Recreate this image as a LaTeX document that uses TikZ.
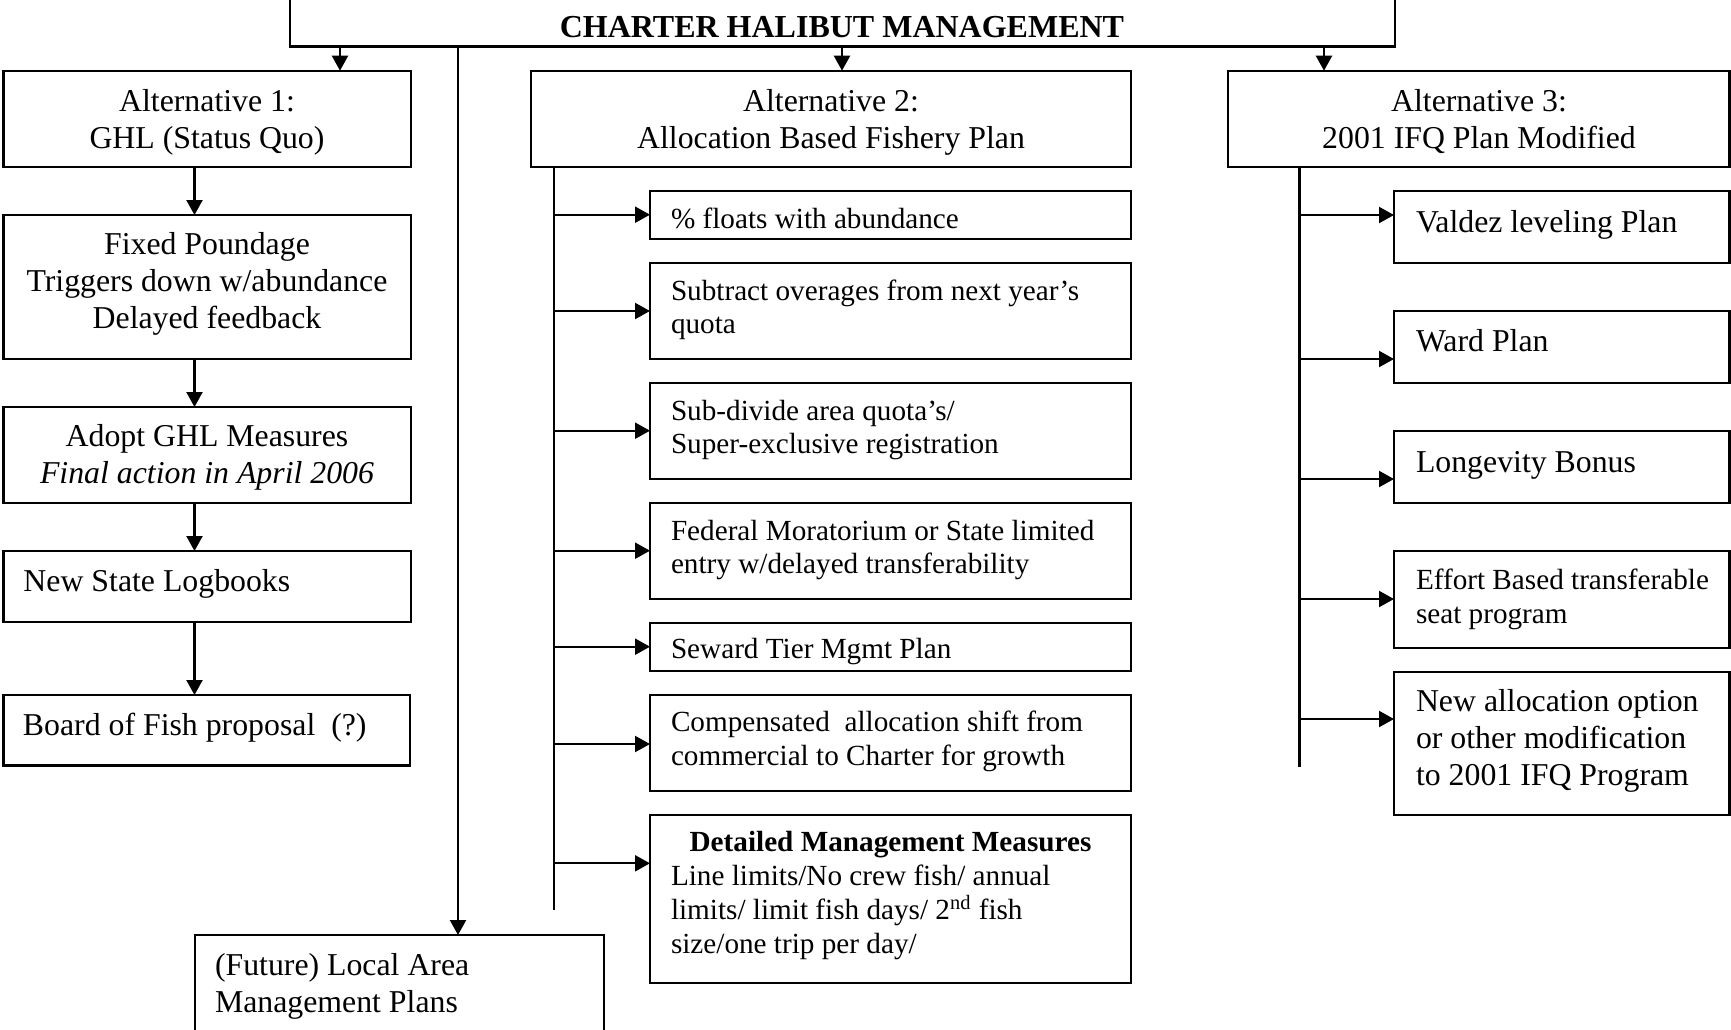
\documentclass[tikz,border=0pt]{standalone}
\usepackage{fontspec}
\setmainfont{Liberation Serif}
\usetikzlibrary{arrows.meta}
\newcommand\Ltab[1]{\begin{tabular}[t]{@{}l@{}}#1\end{tabular}}
\newcommand\Ctab[1]{\begin{tabular}[t]{@{}c@{}}#1\end{tabular}}
\newcommand\mkbox[5]{\node[boxst, minimum width={((#4)-(#2))*0.5pt}, minimum height={((#5)-(#3))*0.5pt}] (#1) at ({((#2)+(#4))/2},{((#3)+(#5))/2}) {};}
\begin{document}
\begin{tikzpicture}[x=0.5pt,y=-0.5pt,
  boxst/.style={draw, line width=1.2pt, rectangle, inner sep=0pt, outer sep=0pt},
  bigtxt/.style={inner sep=0pt, outer sep=0pt, font=\fontsize{15.9}{18.5}\selectfont},
  smalltxt/.style={inner sep=0pt, outer sep=0pt, font=\fontsize{14.6}{16.75}\selectfont},
  conn/.style={line width=1.1pt},
  arr/.style={line width=1.1pt, -{Triangle[length=7.5pt,width=8pt]}}]
\useasboundingbox (0,0) rectangle (1731,1029);
\clip (0,0) rectangle (1731,1029);

% ---- boxes ----
\mkbox{top}{290}{-40}{1395}{46.5}
\mkbox{a1}{3.3}{70.7}{410.7}{166.7}
\mkbox{a2}{531}{70.7}{1131}{166.7}
\mkbox{a3}{1228}{70.7}{1729.5}{166.7}

\mkbox{fixed}{3.3}{215}{410.7}{359}
\mkbox{adopt}{3.3}{407}{410.7}{503}
\mkbox{logb}{3.3}{551}{410.7}{622}
\mkbox{board}{3.3}{695}{410.2}{765.5}
\mkbox{local}{195}{935}{604}{1060}

\mkbox{s1}{650}{191}{1131}{239}
\mkbox{s2}{650}{263}{1131}{359}
\mkbox{s3}{650}{383}{1131}{479}
\mkbox{s4}{650}{503}{1131}{599}
\mkbox{s5}{650}{623}{1131}{671}
\mkbox{s6}{650}{695}{1131}{791}
\mkbox{s7}{650}{815}{1131}{983}

\mkbox{r1}{1394}{191}{1729.5}{263}
\mkbox{r2}{1394}{311}{1729.5}{383}
\mkbox{r3}{1394}{431}{1729.5}{503}
\mkbox{r4}{1394}{551}{1729.5}{648}
\mkbox{r5}{1394}{672}{1729.5}{815}

% ---- texts ----
\node[inner sep=0pt, anchor=base, font=\bfseries\fontsize{16}{19}\selectfont] (title) at (842,37.5) {CHARTER HALIBUT MANAGEMENT};

\node[bigtxt, anchor=base] (a1t) at (207,111.5) {\Ctab{Alternative 1:\\GHL (Status Quo)}};
\node[bigtxt, anchor=base] (a2t) at (831,111.5) {\Ctab{Alternative 2:\\Allocation Based Fishery Plan}};
\node[bigtxt, anchor=base] (a3t) at (1479,111.5) {\Ctab{Alternative 3:\\2001 IFQ Plan Modified}};

\node[bigtxt, anchor=base] (fixedt) at (207,254.6) {\Ctab{Fixed Poundage\\Triggers down w/abundance\\Delayed feedback}};
\node[bigtxt, anchor=base] (adoptt) at (207,446.7) {\Ctab{Adopt GHL Measures\\\textit{Final action in April 2006}}};
\node[bigtxt, anchor=base west] (logbt) at (23.5,591.4) {New State Logbooks};
\node[bigtxt, anchor=base west] (boardt) at (23,735) {Board of Fish proposal~ (?)};
\node[bigtxt, anchor=base west] (localt) at (215,975) {\Ltab{(Future) Local Area\\Management Plans}};

\node[smalltxt, anchor=base west] (s1t) at (671,228) {\% floats with abundance};
\node[smalltxt, anchor=base west] (s2t) at (671,300) {\Ltab{Subtract overages from next year’s\\quota}};
\node[smalltxt, anchor=base west] (s3t) at (671,420) {\Ltab{Sub-divide area quota’s/\\Super-exclusive registration}};
\node[smalltxt, anchor=base west] (s4t) at (671,540) {\Ltab{Federal Moratorium or State limited\\entry w/delayed transferability}};
\node[smalltxt, anchor=base west] (s5t) at (671,658) {Seward Tier Mgmt Plan};
\node[smalltxt, anchor=base west] (s6t) at (671,731.7) {\Ltab{Compensated~ allocation shift from\\commercial to Charter for growth}};
\node[smalltxt, anchor=base, font=\bfseries\fontsize{14.6}{16.75}\selectfont] (s7h) at (890.5,851.7) {Detailed Management Measures};
\node[smalltxt, anchor=base west] (s7t) at (671,885) {\Ltab{Line limits/No crew fish/ annual\\limits/ limit fish days/ 2\textsuperscript{nd} fish\\size/one trip per day/}};

\node[bigtxt, anchor=base west] (r1t) at (1416,232) {Valdez leveling Plan};
\node[bigtxt, anchor=base west] (r2t) at (1416,351) {Ward Plan};
\node[bigtxt, anchor=base west] (r3t) at (1416,472) {Longevity Bonus};
\node[smalltxt, anchor=base west] (r4t) at (1416,589.5) {\Ltab{Effort Based transferable\\seat program}};
\node[bigtxt, anchor=base west] (r5t) at (1416,711) {\Ltab{New allocation option\\or other modification\\to 2001 IFQ Program}};

% ---- connectors ----
\coordinate (xa1) at (340,0);
\coordinate (xa2) at (842,0);
\coordinate (xa3) at (1324,0);
\coordinate (xloc) at (458,0);
\coordinate (xc1) at (194.5,0);

\draw[arr] (top.south -| xa1) -- (a1.north -| xa1);
\draw[arr] (top.south -| xa2) -- (a2.north -| xa2);
\draw[arr] (top.south -| xa3) -- (a3.north -| xa3);
\draw[arr] (top.south -| xloc) -- (local.north -| xloc);

\draw[arr] (a1.south -| xc1) -- (fixed.north -| xc1);
\draw[arr] (fixed.south -| xc1) -- (adopt.north -| xc1);
\draw[arr] (adopt.south -| xc1) -- (logb.north -| xc1);
\draw[arr] (logb.south -| xc1) -- (board.north -| xc1);

\coordinate (t2b) at (554,910);
\draw[conn] (a2.south -| t2b) -- (t2b);
\foreach \n/\yy in {s1/214.7, s2/311, s3/430.7, s4/550.7, s5/646.7, s6/744, s7/863.3} {
  \coordinate (tmp) at (554,\yy);
  \draw[arr] (tmp) -- (tmp -| \n.west);
}

\coordinate (t3b) at (1299.5,767);
\draw[conn] (a3.south -| t3b) -- (t3b);
\foreach \n/\yy in {r1/215, r2/359, r3/479, r4/599, r5/719} {
  \coordinate (tmp) at (1299.5,\yy);
  \draw[arr] (tmp) -- (tmp -| \n.west);
}
\end{tikzpicture}
\end{document}
